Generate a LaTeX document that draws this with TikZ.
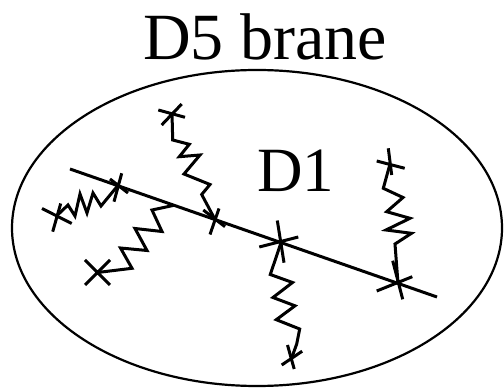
\documentclass[tikz,border=0pt]{standalone}
\usepackage{fontspec}
\setmainfont{Liberation Serif}
\begin{document}
\begin{tikzpicture}[x=1pt,y=-1pt,
  brane/.style={line width=2.2pt},
  dline/.style={line width=3pt},
  spring/.style={line width=3pt, line join=miter},
  xmark/.style={line width=3pt},
  label/.style={anchor=base, inner sep=0pt}]
\useasboundingbox (0,0) rectangle (504,390);
% labels
\node[label, font=\fontsize{66}{70}\selectfont] (d5) at (265,60) {D5 brane};
\node[label, font=\fontsize{63}{66}\selectfont] (d1) at (296,192) {D1};
% D5 brane
\coordinate (c5) at (257,228);
\draw[brane] (c5) ellipse [x radius=245pt, y radius=158pt];
% D1 line
\coordinate (L1) at (70,169);
\coordinate (L2) at (437,297);
\draw[dline] (L1) -- (L2);
% points on the D1
\coordinate (P1) at (117.5,186);
\coordinate (P2) at (215,219.5);
\coordinate (P3) at (281,242.7);
\coordinate (P4) at (398,283.3);
\coordinate (Q)  at (174,205.3);
% free ends
\coordinate (E1) at (172,113);
\coordinate (E2) at (56.5,216);
\coordinate (E3) at (97.5,272.5);
\coordinate (E4) at (390,164);
\coordinate (E5) at (292,357);
% crosses
\draw[xmark, shift={(E1)}] (-13.7,-3) -- (13,4.3) (9.7,-9) -- (-10.3,12);
\draw[xmark, shift={(E2)}] (-14.5,-7.5) -- (15.2,7.5) (4.2,-12.5) -- (-3.8,15.7);
\draw[xmark, shift={(E3)}] (-12.5,-12.5) -- (12.5,12.5) (12.5,-12.5) -- (-12.5,12.5);
\draw[xmark, shift={(E4)}] (-13.3,-3) -- (14.7,4.3) (-1.7,-15.7) -- (1.7,11);
\draw[xmark, shift={(E5)}] (-10.3,8) -- (10.2,-5.8) (-4.5,-12) -- (2.2,12);
\draw[xmark, shift={(P1)}] (4.2,-12.7) -- (-3.5,15.7) (-7.5,-7) -- (10.5,7);
\draw[xmark, shift={(P2)}] (4,-11) -- (-5,15) (-11.7,-9.5) -- (10,7.2);
\draw[xmark, shift={(P3)}] (-21.7,4.3) -- (17.3,-5.7) (-3.7,-22.2) -- (3,20);
\draw[xmark, shift={(P4)}] (-21.3,7.7) -- (14.3,-6.6) (-5.3,-22.6) -- (4.7,16);
% strings
\draw[spring] (E1) -- (172.7,140) -- (189.3,144.3) -- (179.3,156.7) -- (200,155)
  -- (184,174) -- (210,184.5) -- (201.7,194.5) -- (P2);
\draw[spring] (E2) -- (68,205) -- (75,216) -- (80,194) -- (87,213) -- (93,193)
  -- (101,206) -- (P1);
\draw[spring] (E3) -- (132,268.3) -- (120.5,248) -- (147,250.5) -- (135,228.5)
  -- (162,231.5) -- (152,210) -- (Q);
\draw[spring] (E4) -- (383.3,188.3) -- (403,197.5) -- (386.7,211.7) -- (410,218.3)
  -- (386,230) -- (411.5,233.3) -- (395,244) -- (P4);
\draw[spring] (P3) -- (270.3,274.5) -- (292.5,282.5) -- (273,297.5) -- (295,305.8)
  -- (276.3,319.7) -- (299.7,329) -- (296.7,344) -- (E5);
\end{tikzpicture}
\end{document}
